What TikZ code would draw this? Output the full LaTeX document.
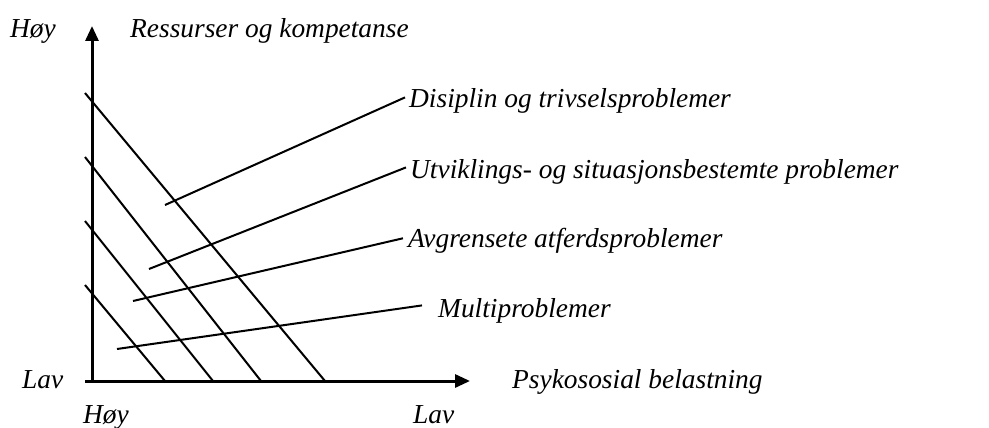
\documentclass[tikz,border=0pt]{standalone}
\usepackage{fontspec}
\setmainfont{Liberation Serif}
\usetikzlibrary{positioning,arrows.meta}

\begin{document}
\begin{tikzpicture}[
    x=1pt, y=-1pt,
    lbl/.style={inner sep=0pt, font=\fontsize{27.4}{30}\selectfont\itshape},
    axis/.style={line width=3pt, -{Triangle[length=15pt,width=13pt]}},
    band/.style={line width=2pt},
    pointer/.style={line width=2pt}
]
\useasboundingbox (0,0) rectangle (989,428);

% ============== AXES ==============
\coordinate (origin) at (92,381);
\coordinate (ytop) at (92,26);
\coordinate (xend) at (470,381);
\draw[axis] (92,382.5) -- (ytop);
\draw[axis] (85,381) -- (xend);

% ============== AXIS LABELS ==============
\node[lbl, anchor=base west] (hoyTop) at (10,38) {Høy};
\node[lbl, anchor=base west] (ressurser) at (130,38) {Ressurser og kompetanse};
\node[lbl, anchor=base west] (lavLeft) at (22,388) {Lav};
\node[lbl, anchor=base west] (belastning) at (512,388) {Psykososial belastning};
\node[lbl, anchor=base west] (hoyBottom) at (83,423) {Høy};
\node[lbl, anchor=base west] (lavBottom) at (413,423) {Lav};

% ============== DIAGONAL BANDS ==============
\draw[band] (85,93)  -- (325,381);
\draw[band] (85,157) -- (261,381);
\draw[band] (85,221) -- (213,381);
\draw[band] (85,285) -- (165,381);

% ============== PROBLEM LABELS ==============
\node[lbl, anchor=base west] (disiplin) at (409,108) {Disiplin og trivselsproblemer};
\node[lbl, anchor=base west] (utvikling) at (410,178) {Utviklings- og situasjonsbestemte problemer};
\node[lbl, anchor=base west] (avgrenset) at (408,247) {Avgrensete atferdsproblemer};
\node[lbl, anchor=base west] (multi) at (438,317) {Multiproblemer};

% ============== POINTERS ==============
\coordinate (pDisiplin) at (165,205);
\coordinate (pUtvikling) at (149,269);
\coordinate (pAvgrenset) at (133,301);
\coordinate (pMulti) at (117,349);

\draw[pointer] (pDisiplin) -- ([xshift=-4pt,yshift=4pt]disiplin.west);
\draw[pointer] (pUtvikling) -- ([xshift=-4pt,yshift=4pt]utvikling.west);
\draw[pointer] (pAvgrenset) -- ([xshift=-5pt,yshift=2pt]avgrenset.west);
\draw[pointer] (pMulti) -- ([xshift=-16pt,yshift=5pt]multi.west);

\end{tikzpicture}
\end{document}
